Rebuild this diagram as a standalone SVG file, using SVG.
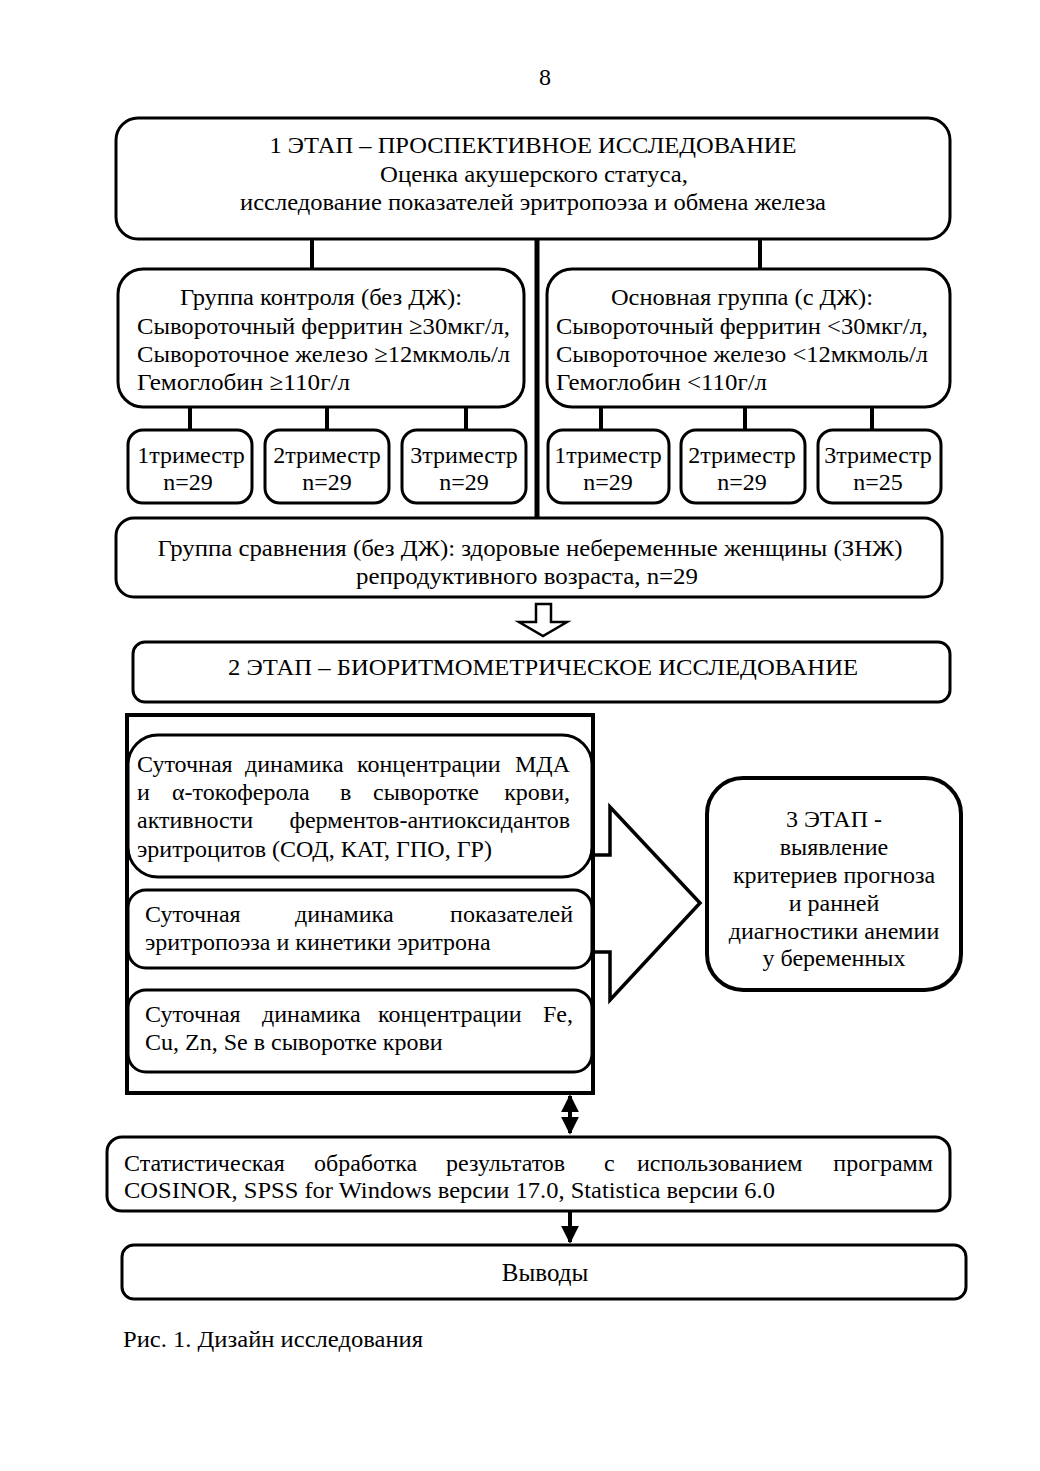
<svg xmlns="http://www.w3.org/2000/svg" width="1040" height="1471" viewBox="0 0 1040 1471">
<style>
text{font-family:"Liberation Serif","Times New Roman",serif;font-size:24px;fill:#000}
.c{text-anchor:middle}
.box{fill:#fff;stroke:#000;stroke-width:3}
.thick{fill:#fff;stroke:#000;stroke-width:4}
.ln{stroke:#000;stroke-width:4;fill:none}
</style>
<defs>
<marker id="ah" viewBox="0 0 10 10" refX="9" refY="5" markerWidth="4.5" markerHeight="4.5" orient="auto-start-reverse" markerUnits="strokeWidth"><path d="M0,0 L10,5 L0,10 z" fill="#000"/></marker>
</defs>
<rect width="1040" height="1471" fill="#fff"/>
<text class="c" x="545" y="85">8</text>

<g id="connectors">
<line class="ln" x1="312" y1="239" x2="312" y2="269"/>
<line class="ln" x1="760" y1="239" x2="760" y2="269"/>
<line x1="537" y1="239" x2="537" y2="518" stroke="#000" stroke-width="5"/>
<line class="ln" x1="190" y1="407" x2="190" y2="430"/>
<line class="ln" x1="327" y1="407" x2="327" y2="430"/>
<line class="ln" x1="466" y1="407" x2="466" y2="430"/>
<line class="ln" x1="601" y1="407" x2="601" y2="430"/>
<line class="ln" x1="745" y1="407" x2="745" y2="430"/>
<line class="ln" x1="872" y1="407" x2="872" y2="430"/>
<path d="M536,604 H551 V622 H567 L543,636 L519,622 H536 Z" fill="#fff" stroke="#000" stroke-width="2.5"/>
<path d="M593,855 H610 V807 L700,903 L610,1000 V952 H593" fill="#fff" stroke="#000" stroke-width="3.5"/>
<line class="ln" x1="570" y1="1096" x2="570" y2="1133" marker-start="url(#ah)" marker-end="url(#ah)"/>
<line class="ln" x1="570" y1="1211" x2="570" y2="1242" marker-end="url(#ah)"/>
</g>

<g id="stage1">
<rect class="box" x="116" y="118" width="834" height="121" rx="22"/>
<text class="c" x="533" y="153" textLength="527" lengthAdjust="spacingAndGlyphs">1 ЭТАП – ПРОСПЕКТИВНОЕ ИССЛЕДОВАНИЕ</text>
<text class="c" x="534" y="182" textLength="308" lengthAdjust="spacingAndGlyphs">Оценка акушерского статуса,</text>
<text class="c" x="533" y="210" textLength="586" lengthAdjust="spacingAndGlyphs">исследование показателей эритропоэза и обмена железа</text>
</g>

<g id="control-group">
<rect class="box" x="118" y="269" width="406" height="138" rx="25"/>
<text class="c" x="321" y="305" textLength="282" lengthAdjust="spacingAndGlyphs">Группа контроля (без ДЖ):</text>
<text x="137" y="334" textLength="373" lengthAdjust="spacingAndGlyphs">Сывороточный ферритин ≥30мкг/л,</text>
<text x="137" y="362" textLength="373" lengthAdjust="spacingAndGlyphs">Сывороточное железо ≥12мкмоль/л</text>
<text x="137" y="390" textLength="213" lengthAdjust="spacingAndGlyphs">Гемоглобин ≥110г/л</text>
</g>

<g id="main-group">
<rect class="box" x="547" y="269" width="403" height="138" rx="25"/>
<text class="c" x="742" y="305" textLength="262" lengthAdjust="spacingAndGlyphs">Основная группа (с ДЖ):</text>
<text x="556" y="334" textLength="372" lengthAdjust="spacingAndGlyphs">Сывороточный ферритин &lt;30мкг/л,</text>
<text x="556" y="362" textLength="372" lengthAdjust="spacingAndGlyphs">Сывороточное железо &lt;12мкмоль/л</text>
<text x="556" y="390" textLength="211" lengthAdjust="spacingAndGlyphs">Гемоглобин &lt;110г/л</text>
</g>

<g id="c-tri1"><rect class="box" x="128" y="430" width="124" height="73" rx="15"/><text class="c" x="191" y="463">1триместр</text><text class="c" x="188" y="490">n=29</text></g>
<g id="c-tri2"><rect class="box" x="265" y="430" width="124" height="73" rx="15"/><text class="c" x="327" y="463">2триместр</text><text class="c" x="327" y="490">n=29</text></g>
<g id="c-tri3"><rect class="box" x="402" y="430" width="124" height="73" rx="15"/><text class="c" x="464" y="463">3триместр</text><text class="c" x="464" y="490">n=29</text></g>
<g id="m-tri1"><rect class="box" x="548" y="430" width="121" height="73" rx="15"/><text class="c" x="608" y="463">1триместр</text><text class="c" x="608" y="490">n=29</text></g>
<g id="m-tri2"><rect class="box" x="681" y="430" width="124" height="73" rx="15"/><text class="c" x="742" y="463">2триместр</text><text class="c" x="742" y="490">n=29</text></g>
<g id="m-tri3"><rect class="box" x="818" y="430" width="123" height="73" rx="15"/><text class="c" x="878" y="463">3триместр</text><text class="c" x="878" y="490">n=25</text></g>

<g id="comparison-group">
<rect class="box" x="116" y="518" width="826" height="79" rx="18"/>
<text class="c" x="530" y="556" textLength="745" lengthAdjust="spacingAndGlyphs">Группа сравнения (без ДЖ): здоровые небеременные женщины (ЗНЖ)</text>
<text class="c" x="527" y="584" textLength="342" lengthAdjust="spacingAndGlyphs">репродуктивного возраста, n=29</text>
</g>

<g id="stage2">
<rect class="box" x="133" y="642" width="817" height="60" rx="12"/>
<text class="c" x="543" y="675" textLength="630" lengthAdjust="spacingAndGlyphs">2 ЭТАП – БИОРИТМОМЕТРИЧЕСКОЕ ИССЛЕДОВАНИЕ</text>
</g>

<g id="stage2-frame">
<rect x="127" y="715" width="466" height="378" fill="none" stroke="#000" stroke-width="4"/>
</g>

<g id="box-a">
<rect class="box" x="128" y="735" width="464" height="142" rx="30"/>
<text y="772"><tspan x="137">Суточная</tspan><tspan x="245">динамика</tspan><tspan x="357">концентрации</tspan><tspan x="570" text-anchor="end">МДА</tspan></text>
<text y="800"><tspan x="137">и</tspan><tspan x="172">α-токоферола</tspan><tspan x="340">в</tspan><tspan x="373">сыворотке</tspan><tspan x="570" text-anchor="end">крови,</tspan></text>
<text y="828"><tspan x="137">активности</tspan><tspan x="570" text-anchor="end">ферментов-антиоксидантов</tspan></text>
<text x="137" y="857">эритроцитов (СОД, КАТ, ГПО, ГР)</text>
</g>

<g id="box-b">
<rect class="box" x="128" y="890" width="464" height="78" rx="18"/>
<text y="922"><tspan x="145">Суточная</tspan><tspan x="295">динамика</tspan><tspan x="573" text-anchor="end">показателей</tspan></text>
<text x="145" y="950">эритропоэза и кинетики эритрона</text>
</g>

<g id="box-c">
<rect class="box" x="128" y="990" width="464" height="82" rx="18"/>
<text y="1022"><tspan x="145">Суточная</tspan><tspan x="262">динамика</tspan><tspan x="378">концентрации</tspan><tspan x="573" text-anchor="end">Fe,</tspan></text>
<text x="145" y="1050">Cu, Zn, Se в сыворотке крови</text>
</g>

<g id="stage3">
<rect class="thick" x="707" y="778" width="254" height="212" rx="36"/>
<text class="c" x="834" y="827">3 ЭТАП -</text>
<text class="c" x="834" y="855">выявление</text>
<text class="c" x="834" y="883">критериев прогноза</text>
<text class="c" x="834" y="911">и ранней</text>
<text class="c" x="834" y="939">диагностики анемии</text>
<text class="c" x="834" y="966">у беременных</text>
</g>

<g id="statistics">
<rect class="box" x="107" y="1137" width="843" height="74" rx="15"/>
<text y="1171"><tspan x="124">Статистическая</tspan><tspan x="314">обработка</tspan><tspan x="446">результатов</tspan><tspan x="604">с</tspan><tspan x="637">использованием</tspan><tspan x="933" text-anchor="end">программ</tspan></text>
<text x="124" y="1198" textLength="651" lengthAdjust="spacingAndGlyphs">COSINOR, SPSS for Windows версии 17.0, Statistica версии 6.0</text>
</g>

<g id="conclusions">
<rect class="box" x="122" y="1245" width="844" height="54" rx="12"/>
<text class="c" x="545" y="1281" style="font-size:25px">Выводы</text>
</g>

<text x="123" y="1347" textLength="300" lengthAdjust="spacingAndGlyphs">Рис. 1. Дизайн исследования</text>
</svg>
